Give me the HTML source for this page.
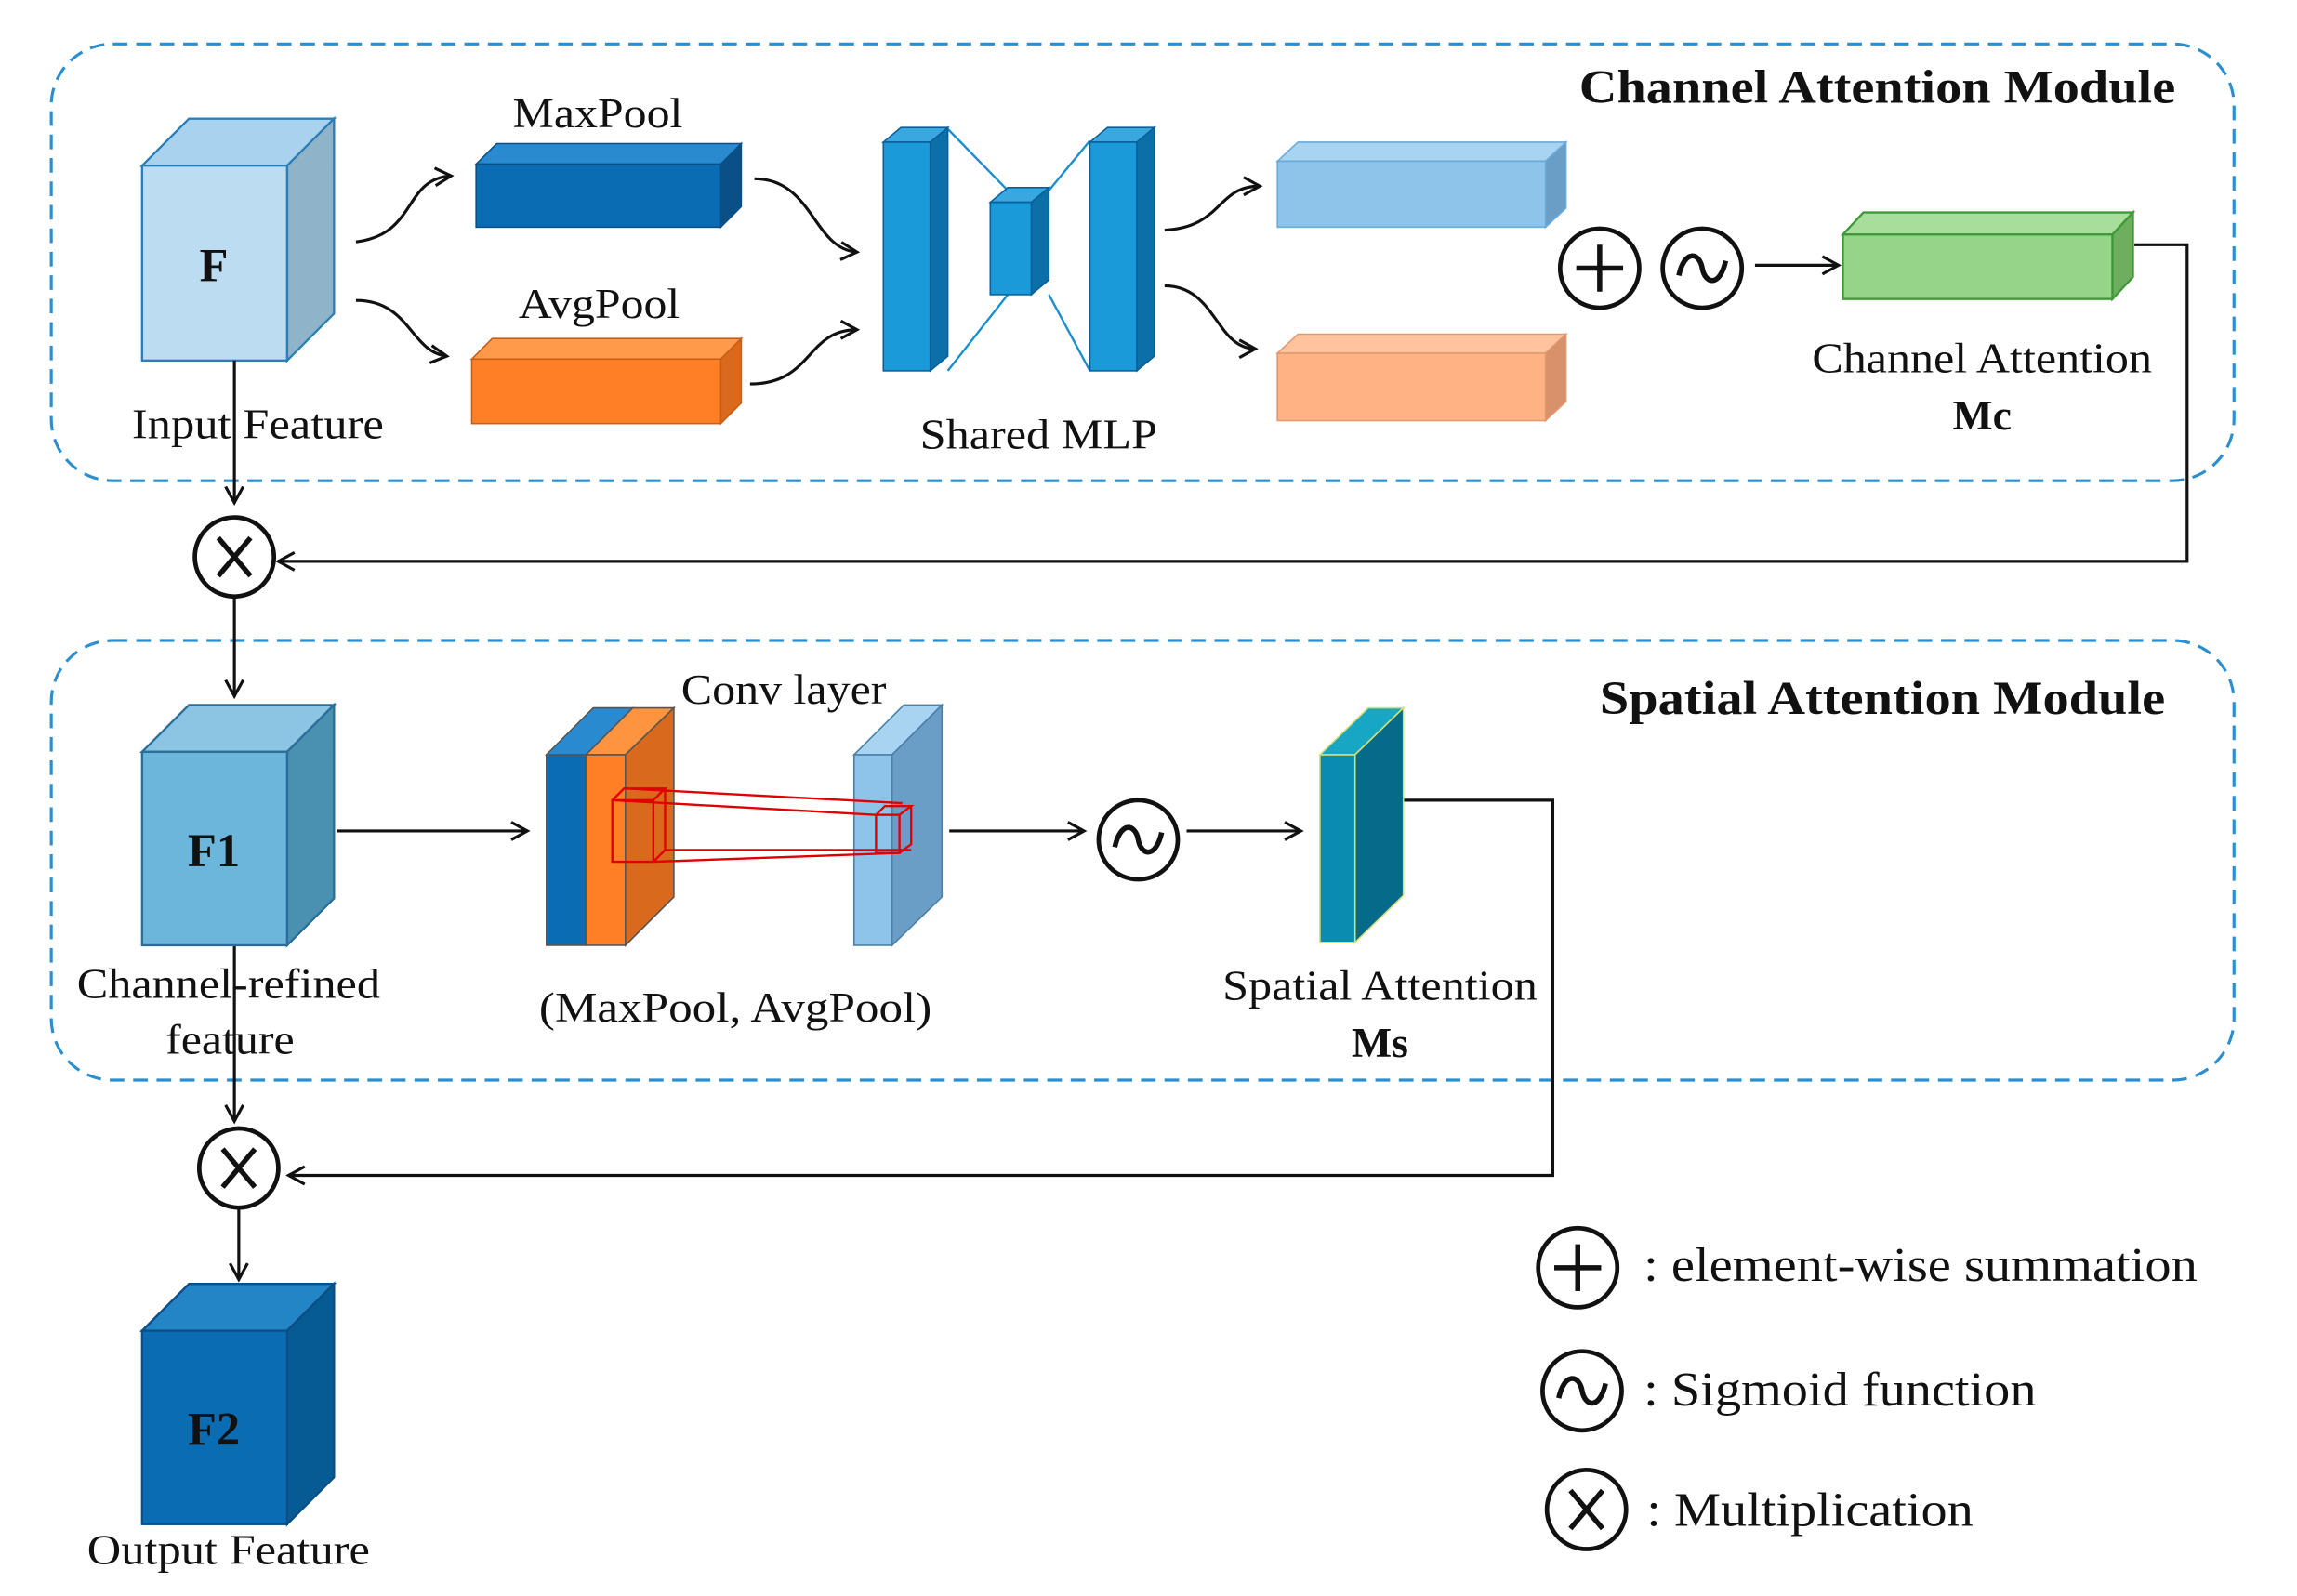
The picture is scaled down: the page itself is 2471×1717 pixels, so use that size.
<!DOCTYPE html>
<html><head><meta charset="utf-8"><style>
html,body{margin:0;padding:0;background:#fff;}
svg{display:block;}
text{font-family:"Liberation Serif",serif;fill:#111;}
</style></head><body>
<svg width="2471" height="1717" viewBox="0 0 1568 1089" preserveAspectRatio="none" xmlns="http://www.w3.org/2000/svg">
<defs>
<marker id="a" markerWidth="14" markerHeight="14" refX="12" refY="7" orient="auto" markerUnits="userSpaceOnUse">
<path d="M1,1 L12,7 L1,13" fill="none" stroke="#111" stroke-width="2"/>
</marker>
</defs>
<rect x="0" y="0" width="1568" height="1089" fill="#fff"/>
<rect x="35" y="30" width="1490" height="298" rx="42" fill="none" stroke="#2b8fcf" stroke-width="2" stroke-dasharray="10,6"/>
<rect x="35" y="437" width="1490" height="300" rx="42" fill="none" stroke="#2b8fcf" stroke-width="2" stroke-dasharray="10,6"/>
<text x="1078" y="70" font-size="32" font-weight="bold" textLength="407" lengthAdjust="spacingAndGlyphs">Channel Attention Module</text>
<text x="1092" y="487" font-size="32" font-weight="bold" textLength="386" lengthAdjust="spacingAndGlyphs">Spatial Attention Module</text>

<g stroke="#2b7fb8" stroke-width="1.5">
<polygon points="97,113 129,81 228,81 196,113" fill="#a9d2ee"/>
<polygon points="196,113 228,81 228,214 196,246" fill="#8fb3c8"/>
<rect x="97" y="113" width="99" height="133" fill="#bcdcf2"/>
</g>
<text x="146" y="192" font-size="32" font-weight="bold" text-anchor="middle">F</text>
<text x="176" y="299" font-size="29" text-anchor="middle" textLength="172" lengthAdjust="spacingAndGlyphs">Input Feature</text>

<g stroke="#0a4f86" stroke-width="1">
<polygon points="325,112 339,98 506,98 492,112" fill="#2a8ad0"/>
<polygon points="492,112 506,98 506,141 492,155" fill="#0a4f86"/>
<rect x="325" y="112" width="167" height="43" fill="#0a6db4"/>
</g>
<text x="408" y="87" font-size="29" text-anchor="middle" textLength="116" lengthAdjust="spacingAndGlyphs">MaxPool</text>
<g stroke="#c85e18" stroke-width="1">
<polygon points="322,245 336,231 506,231 492,245" fill="#ff9a4a"/>
<polygon points="492,245 506,231 506,275 492,289" fill="#d96a1d"/>
<rect x="322" y="245" width="170" height="44" fill="#ff7f27"/>
</g>
<text x="409" y="217" font-size="29" text-anchor="middle" textLength="110" lengthAdjust="spacingAndGlyphs">AvgPool</text>

<g fill="none" stroke="#111" stroke-width="2" marker-end="url(#a)">
<path d="M243,165 C285,160 275,122 308,120"/>
<path d="M243,205 C280,205 280,240 305,243"/>
<path d="M515,122 C555,122 555,170 585,172"/>
<path d="M512,262 C555,262 550,225 585,225"/>
<path d="M795,157 C835,155 830,127 860,127"/>
<path d="M795,195 C830,195 830,238 857,238"/>
<path d="M1198,181 L1255,181"/>
<path d="M160,246 L160,343"/>
<path d="M160,408 L160,475"/>
<path d="M1457,167 L1493,167 L1493,383 L190,383"/>
<path d="M230,567 L360,567"/>
<path d="M648,567 L740,567"/>
<path d="M810,567 L888,567"/>
<path d="M958,546 L1060,546 L1060,802 L197,802"/>
<path d="M160,645 L160,765"/>
<path d="M163,825 L163,873"/>
</g>

<g stroke="#1a8fd0" stroke-width="1.5" fill="none">
<path d="M647,88 L688,130 M647,253 L688,201 M744,96 L716,130 M744,253 L716,201"/>
</g>
<g stroke="#0a5f9a" stroke-width="1">
<polygon points="603,97 615,87 647,87 635,97" fill="#3aa8e0"/>
<polygon points="635,97 647,87 647,243 635,253" fill="#0c6fa8"/>
<rect x="603" y="97" width="32" height="156" fill="#1a9ad8"/>
<polygon points="676,138 688,128 716,128 704,138" fill="#3aa8e0"/>
<polygon points="704,138 716,128 716,191 704,201" fill="#0c6fa8"/>
<rect x="676" y="138" width="28" height="63" fill="#1a9ad8"/>
<polygon points="744,97 756,87 788,87 776,97" fill="#3aa8e0"/>
<polygon points="776,97 788,87 788,243 776,253" fill="#0c6fa8"/>
<rect x="744" y="97" width="32" height="156" fill="#1a9ad8"/>
</g>
<text x="709" y="306" font-size="29" text-anchor="middle" textLength="162" lengthAdjust="spacingAndGlyphs">Shared MLP</text>

<g stroke="#6aaad8" stroke-width="1">
<polygon points="872,110 886,97 1069,97 1055,110" fill="#a8d4f2"/>
<polygon points="1055,110 1069,97 1069,142 1055,155" fill="#6a9ec6"/>
<rect x="872" y="110" width="183" height="45" fill="#8ec4ea"/>
</g>
<g stroke="#e09870" stroke-width="1">
<polygon points="872,241 886,228 1069,228 1055,241" fill="#ffc49e"/>
<polygon points="1055,241 1069,228 1069,274 1055,287" fill="#d8916a"/>
<rect x="872" y="241" width="183" height="46" fill="#ffb385"/>
</g>

<g fill="#fff" stroke="#111" stroke-width="3">
<circle cx="1092" cy="183" r="27"/>
<circle cx="1162" cy="183" r="27"/>
<circle cx="160" cy="380" r="27"/>
<circle cx="777" cy="573" r="27"/>
<circle cx="163" cy="797" r="27"/>
<circle cx="1077" cy="865" r="27"/>
<circle cx="1080" cy="949" r="27"/>
<circle cx="1083" cy="1030" r="27"/>
</g>
<g stroke="#111" stroke-width="3.5" fill="none">
<path d="M1092,167 V199 M1076,183 H1108"/>
<path d="M1077,849 V881 M1061,865 H1093"/>
<path d="M1146,188 C1150,170 1160,172 1162,183 C1164,194 1174,196 1178,178"/>
<path d="M761,578 C765,560 775,562 777,573 C779,584 789,586 793,568"/>
<path d="M1064,954 C1068,936 1078,938 1080,949 C1082,960 1092,962 1096,944"/>
<path d="M149,367 L171,393 M171,367 L149,393"/>
<path d="M152,784 L174,810 M174,784 L152,810"/>
<path d="M1072,1017 L1094,1043 M1094,1017 L1072,1043"/>
</g>

<g stroke="#3f9a36" stroke-width="1.5">
<polygon points="1258,160 1272,145 1456,145 1442,160" fill="#a8de9c"/>
<polygon points="1442,160 1456,145 1456,189 1442,204" fill="#6fae5e"/>
<rect x="1258" y="160" width="184" height="44" fill="#96d48a"/>
</g>
<text x="1353" y="254" font-size="29" text-anchor="middle" textLength="232" lengthAdjust="spacingAndGlyphs">Channel Attention</text>
<text x="1353" y="293" font-size="29" font-weight="bold" text-anchor="middle">Mc</text>

<g stroke="#2b6f98" stroke-width="1.5">
<polygon points="97,513 129,481 228,481 196,513" fill="#8cc5e4"/>
<polygon points="196,513 228,481 228,613 196,645" fill="#4a90b0"/>
<rect x="97" y="513" width="99" height="132" fill="#6cb6dc"/>
</g>
<text x="146" y="591" font-size="32" font-weight="bold" text-anchor="middle">F1</text>
<text x="156" y="681" font-size="29" text-anchor="middle" textLength="207" lengthAdjust="spacingAndGlyphs">Channel-refined</text>
<text x="157" y="719" font-size="29" text-anchor="middle" textLength="88" lengthAdjust="spacingAndGlyphs">feature</text>

<g stroke="#555" stroke-width="1">
<polygon points="373,515 405,483 432,483 400,515" fill="#2a8ad0"/>
<rect x="373" y="515" width="27" height="130" fill="#0a6db4"/>
<polygon points="400,515 432,483 460,483 427,515" fill="#ff9440"/>
<rect x="400" y="515" width="27" height="130" fill="#ff7f27"/>
<polygon points="427,515 460,483 460,612 427,645" fill="#d96a1d"/>
</g>
<g stroke="#4a7fa8" stroke-width="1">
<polygon points="583,515 617,481 643,481 609,515" fill="#a8d4f2"/>
<polygon points="609,515 643,481 643,612 609,645" fill="#6a9ec6"/>
<rect x="583" y="515" width="26" height="130" fill="#8ec4ea"/>
</g>
<g stroke="#e00000" stroke-width="1.5" fill="none">
<rect x="418" y="546" width="28" height="42"/>
<path d="M418,546 L426,538 L454,538 L446,546 M454,538 L454,580 L446,588"/>
<path d="M426,538 L616,548 M454,580 L622,580 M446,588 L614,582 M418,546 L598,556"/>
<rect x="598" y="556" width="16" height="26"/>
<path d="M598,556 L604,550 L622,550 L614,556 M622,550 L622,576 L614,582"/>
</g>
<text x="535" y="480" font-size="29" text-anchor="middle" textLength="140" lengthAdjust="spacingAndGlyphs">Conv layer</text>
<text x="502" y="697" font-size="29" text-anchor="middle" textLength="268" lengthAdjust="spacingAndGlyphs">(MaxPool, AvgPool)</text>

<g stroke="#d8e070" stroke-width="1">
<polygon points="901,515 934,483 958,483 925,515" fill="#17a6c4"/>
<polygon points="925,515 958,483 958,611 925,643" fill="#066a8a"/>
<rect x="901" y="515" width="24" height="128" fill="#0a8bb0"/>
</g>
<text x="942" y="682" font-size="29" text-anchor="middle" textLength="215" lengthAdjust="spacingAndGlyphs">Spatial Attention</text>
<text x="942" y="721" font-size="29" font-weight="bold" text-anchor="middle">Ms</text>

<g stroke="#0a4f86" stroke-width="1.5">
<polygon points="97,908 129,876 228,876 196,908" fill="#2385c5"/>
<polygon points="196,908 228,876 228,1008 196,1040" fill="#075b94"/>
<rect x="97" y="908" width="99" height="132" fill="#0a6db4"/>
</g>
<text x="146" y="986" font-size="32" font-weight="bold" text-anchor="middle">F2</text>
<text x="156" y="1067" font-size="29" text-anchor="middle" textLength="193" lengthAdjust="spacingAndGlyphs">Output Feature</text>

<text x="1122" y="874" font-size="33" textLength="378" lengthAdjust="spacingAndGlyphs">: element-wise summation</text>
<text x="1122" y="959" font-size="33" textLength="268" lengthAdjust="spacingAndGlyphs">: Sigmoid function</text>
<text x="1124" y="1041" font-size="33" textLength="223" lengthAdjust="spacingAndGlyphs">: Multiplication</text>
</svg>
</body></html>
